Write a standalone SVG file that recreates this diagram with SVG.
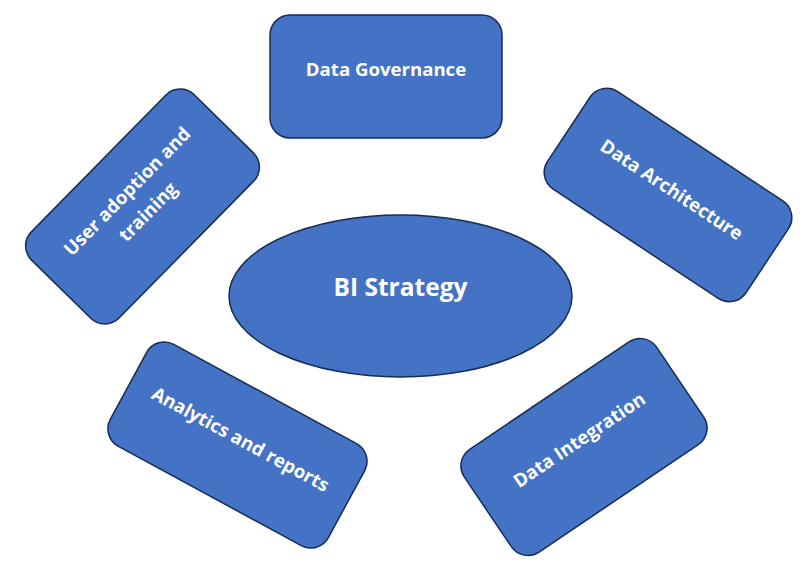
<svg xmlns="http://www.w3.org/2000/svg" width="812" height="581" viewBox="0 0 812 581">
<style>
.shape{fill:#4472C4;stroke:#172C51;stroke-width:1.5}
.lbl{fill:#FFFFFF;font-family:"Open Sans","Noto Sans",sans-serif;font-weight:bold;font-size:18.6px;text-anchor:middle}
.big{font-size:24.5px}
</style>
<rect width="812" height="581" fill="#FFFFFF"/>
<g id="connectors"></g>
<g id="bi-strategy">
<ellipse class="shape" cx="400.5" cy="296" rx="171.5" ry="81"/>
<text class="lbl big" x="400.5" y="296">BI Strategy</text>
</g>
<g id="data-governance">
<rect class="shape" x="270" y="15" width="232" height="123" rx="20"/>
<text class="lbl" x="386" y="75.5">Data Governance</text>
</g>
<g id="user-adoption" transform="translate(142.5,206.5) rotate(-45.5)">
<rect class="shape" x="-116" y="-61.5" width="232" height="123" rx="20"/>
<text class="lbl" x="0" y="-15">User adoption and</text>
<text class="lbl" x="0" y="14">training</text>
</g>
<g id="data-architecture" transform="translate(668,195) rotate(33.5)">
<rect class="shape" x="-119" y="-58.5" width="238" height="117" rx="20"/>
<text class="lbl" x="0" y="0">Data Architecture</text>
</g>
<g id="analytics-reports" transform="translate(237.5,445) rotate(28.5)">
<rect class="shape" x="-124" y="-58" width="248" height="116" rx="20"/>
<text class="lbl" x="0" y="0">Analytics and reports</text>
</g>
<g id="data-integration" transform="translate(584,447) rotate(-34)">
<rect class="shape" x="-116" y="-62" width="232" height="124" rx="20"/>
<text class="lbl" x="0" y="-2">Data Integration</text>
</g>
</svg>
